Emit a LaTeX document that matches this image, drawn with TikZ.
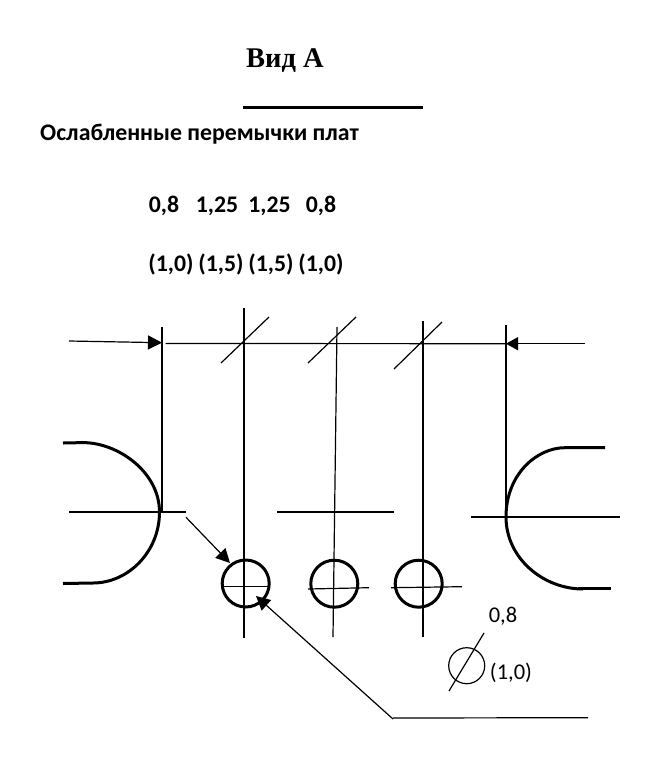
\documentclass[tikz,border=0pt]{standalone}
\usepackage{fontspec}
\setmainfont{Carlito}
\newfontfamily\titlefont{Liberation Serif}
\usetikzlibrary{arrows.meta}
\tikzset{
  thinline/.style={line width=1.2pt,black},
  thickline/.style={line width=3pt,black},
  hole/.style={circle,draw,line width=3pt,minimum size=47pt,inner sep=0pt},
  tiparrow/.style={thinline,-{Triangle[length=14pt,width=14pt]},shorten >=0pt},
  boldlabel/.style={font=\bfseries\fontsize{23.8}{28}\selectfont,inner sep=0pt,anchor=center},
  pluslabel/.style={font=\fontsize{22.5}{27}\selectfont,inner sep=0pt,anchor=center}
}
\begin{document}
\begin{tikzpicture}[x=1pt,y=-1pt]
\useasboundingbox[fill=white] (0,0) rectangle (650,772);
% texts
\node[inner sep=0pt,font=\titlefont\bfseries\fontsize{28.5}{33}\selectfont] (title) at (285,61) {Вид А};
\node[boldlabel,anchor=west] (head) at (40,134) {Ослабленные перемычки плат};
\node[boldlabel] (v1) at (164,206) {0,8};
\node[boldlabel] (v2) at (217,206) {1,25};
\node[boldlabel] (v3) at (269.5,206) {1,25};
\node[boldlabel] (v4) at (321,206) {0,8};
\node[boldlabel] (p1) at (171,264) {(1,0)};
\node[boldlabel] (p2) at (221,264) {(1,5)};
\node[boldlabel] (p3) at (271,264) {(1,5)};
\node[boldlabel] (p4) at (321,264) {(1,0)};
\node[pluslabel] (d1) at (503,616) {0,8};
\node[pluslabel] (d2) at (511,673) {(1,0)};
% title rule
\draw[thickline] (243,107.7) -- (422.7,107.7);
% holes
\node[hole] (h1) at (245.7,583.5) {};
\node[hole] (h2) at (334.3,583.7) {};
\node[hole] (h3) at (418.7,583.7) {};
% vertical extension lines
\draw[thinline] (162,327) -- (162,512);
\draw[thinline] (244,308) -- (244,638);
\draw[thinline] (337,327) -- (333,637);
\draw[thinline] (423,321) -- (423,637);
\draw[thinline] (506,325) -- (506,517);
% slashes
\draw[thinline] (221,363) -- (269,317);
\draw[thinline] (308,363) -- (356,317);
\draw[thinline] (394,369) -- (442,322);
% dimension line and arrows
\coordinate (dimL) at (162,342.7);
\coordinate (dimR) at (506,343.7);
\coordinate (tailL) at (69,341);
\coordinate (tailR) at (585,343.7);
\draw[thinline] (165.5,343.5) -- (dimR);
\draw[tiparrow] (tailL) -- (dimL);
\draw[thinline,-{Triangle[length=12pt,width=13pt]}] (tailR) -- (dimR);
% centre lines
\draw[thinline] (69,512) -- (186,512);
\draw[thinline] (277,512) -- (394,512);
\draw[thinline] (471,517) -- (620,517);
\draw[thinline] (224,586.7) -- (270,586.7);
\draw[thinline] (308,589) -- (369,587.7);
\draw[thinline] (391,587.7) -- (462,586.7);
% rounded outlines
\draw[thickline] (63,443) -- (83,442.6) .. controls (118,442.6) and (159.5,472) .. (159.5,512) .. controls (159.5,552) and (128,583) .. (93,583) -- (63,583.5);
\draw[thickline] (605,447.7) -- (565,447.7) .. controls (537,447.7) and (506,474) .. (506,517) .. controls (506,558) and (543,589) .. (583,589);
\draw[thickline] (578,588) -- (611,588);
% leader arrows
\coordinate (tailA) at (186,517.3);
\coordinate (tipA) at (230,563);
\coordinate (elbow) at (393,718);
\coordinate (tipB) at (256,596);
\coordinate (leaderEnd) at (588,717.7);
\draw[tiparrow] (tailA) -- (tipA);
\draw[tiparrow] (393,719) -- (tipB);
\draw[thinline] (elbow) -- (leaderEnd);
% diameter symbol
\node[circle,draw,line width=1.2pt,minimum size=36pt,inner sep=0pt] (phi) at (466.7,665.7) {};
\draw[thinline] (449,691) -- (484,633);
\end{tikzpicture}
\end{document}
